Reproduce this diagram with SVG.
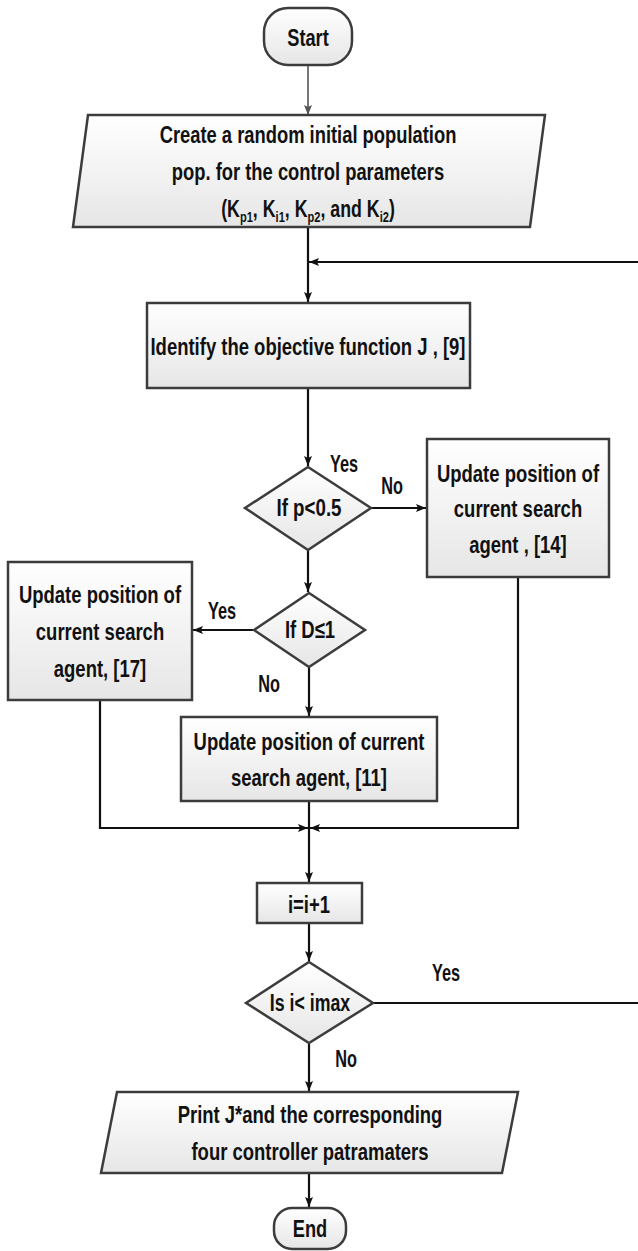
<svg xmlns="http://www.w3.org/2000/svg" width="638" height="1251" viewBox="0 0 638 1251">
<style>
.n{fill:url(#g);stroke:#3c3c3c;stroke-width:2.5}
.t{font-family:"Liberation Sans",Arial,sans-serif;font-weight:bold;font-size:24px;fill:#111;text-anchor:middle}
.c{fill:none;stroke:#111;stroke-width:2.2}
.c0{fill:none;stroke:#555;stroke-width:1.6}
</style>
<defs>
<linearGradient id="g" x1="0" y1="0" x2="0" y2="1">
<stop offset="0" stop-color="#ffffff"/>
<stop offset="1" stop-color="#e6e6e6"/>
</linearGradient>
<marker id="a" markerUnits="userSpaceOnUse" markerWidth="12" markerHeight="10" refX="10" refY="4" orient="auto">
<path d="M0,0 L10,4 L0,8 L2,4 z" fill="#111"/>
</marker>
<marker id="a0" markerUnits="userSpaceOnUse" markerWidth="12" markerHeight="10" refX="10" refY="4" orient="auto">
<path d="M0,0 L10,4 L0,8 L2,4 z" fill="#555"/>
</marker>
</defs>

<g id="connectors">
<path class="c0" d="M308,66 V115" marker-end="url(#a0)"/>
<path class="c" d="M308,228 V302" marker-end="url(#a)"/>
<path class="c" d="M373,1003 H650 V262 H309" stroke-width="2.6" marker-end="url(#a)"/>
<path class="c" d="M308,389 V466" marker-end="url(#a)"/>
<path class="c" d="M371,508 H426" stroke-width="2.6" marker-end="url(#a)"/>
<path class="c" d="M308,550 V592" marker-end="url(#a)"/>
<path class="c" d="M255,630 H193" stroke-width="2.6" marker-end="url(#a)"/>
<path class="c" d="M309,667 V716" marker-end="url(#a)"/>
<path class="c" d="M100,700 V828 H308" marker-end="url(#a)"/>
<path class="c" d="M518,577 V828 H310" marker-end="url(#a)"/>
<path class="c" d="M309,801 V882" marker-end="url(#a)"/>
<path class="c" d="M309,923 V961" marker-end="url(#a)"/>
<path class="c" d="M309,1043 V1091" marker-end="url(#a)"/>
<path class="c" d="M309,1173 V1207" marker-end="url(#a)"/>
</g>

<g id="start">
<rect class="n" x="264" y="8" width="88" height="57" rx="24" ry="24"/>
<text class="t" transform="translate(308,0) scale(0.76,1)" x="0" y="46">Start</text>
</g>

<g id="init">
<polygon class="n" points="88,115 545,115 530,227 73,227"/>
<text class="t" transform="translate(308,0) scale(0.765,1)" x="0" y="143">Create a random initial population</text>
<text class="t" transform="translate(308,0) scale(0.765,1)" x="0" y="180">pop. for the control parameters</text>
<text class="t" transform="translate(308,0) scale(0.74,1)" x="0" y="217">(K<tspan font-size="15" dy="5">p1</tspan><tspan dy="-5">, K</tspan><tspan font-size="15" dy="5">i1</tspan><tspan dy="-5">, K</tspan><tspan font-size="15" dy="5">p2</tspan><tspan dy="-5">, and K</tspan><tspan font-size="15" dy="5">i2</tspan><tspan dy="-5">)</tspan></text>
</g>

<g id="identify">
<rect class="n" x="147" y="303" width="323" height="85"/>
<text class="t" transform="translate(308,0) scale(0.77,1)" x="0" y="355">Identify the objective function J , [9]</text>
</g>

<g id="dec1">
<polygon class="n" points="308,467 371,508 308,550 245,508"/>
<text class="t" transform="translate(309,0) scale(0.78,1)" x="0" y="516">If p&lt;0.5</text>
</g>

<g id="upd14">
<rect class="n" x="427" y="439" width="182" height="138"/>
<text class="t" transform="translate(518,0) scale(0.77,1)" x="0" y="482">Update position of</text>
<text class="t" transform="translate(518,0) scale(0.77,1)" x="0" y="517">current search</text>
<text class="t" transform="translate(518,0) scale(0.77,1)" x="0" y="553">agent , [14]</text>
</g>

<g id="dec2">
<polygon class="n" points="309,593 365,630 309,667 254,630"/>
<text class="t" transform="translate(310,0) scale(0.77,1)" x="0" y="638">If D≤1</text>
</g>

<g id="upd17">
<rect class="n" x="8" y="562" width="184" height="138"/>
<text class="t" transform="translate(100,0) scale(0.77,1)" x="0" y="603">Update position of</text>
<text class="t" transform="translate(100,0) scale(0.77,1)" x="0" y="640">current search</text>
<text class="t" transform="translate(100,0) scale(0.77,1)" x="0" y="677">agent, [17]</text>
</g>

<g id="upd11">
<rect class="n" x="181" y="717" width="256" height="84"/>
<text class="t" transform="translate(309,0) scale(0.77,1)" x="0" y="750">Update position of current</text>
<text class="t" transform="translate(309,0) scale(0.77,1)" x="0" y="786">search agent, [11]</text>
</g>

<g id="incr">
<rect class="n" x="257" y="883" width="105" height="40"/>
<text class="t" transform="translate(309,0) scale(0.77,1)" x="0" y="913">i=i+1</text>
</g>

<g id="dec3">
<polygon class="n" points="309,962 373,1003 309,1043 246,1003"/>
<text class="t" transform="translate(310,0) scale(0.74,1)" x="0" y="1011">Is i&lt; imax</text>
</g>

<g id="print">
<polygon class="n" points="117,1092 518,1092 502,1173 101,1173"/>
<text class="t" transform="translate(310,0) scale(0.77,1)" x="0" y="1123">Print J*and the corresponding</text>
<text class="t" transform="translate(310,0) scale(0.77,1)" x="0" y="1160">four controller patramaters</text>
</g>

<g id="end">
<rect class="n" x="274" y="1208" width="72" height="41" rx="18" ry="18"/>
<text class="t" transform="translate(310,0) scale(0.76,1)" x="0" y="1237">End</text>
</g>

<g id="labels">
<text class="t" transform="translate(344,0) scale(0.68,1)" x="0" y="472">Yes</text>
<text class="t" transform="translate(392,0) scale(0.68,1)" x="0" y="494">No</text>
<text class="t" transform="translate(222,0) scale(0.68,1)" x="0" y="619">Yes</text>
<text class="t" transform="translate(269,0) scale(0.68,1)" x="0" y="692">No</text>
<text class="t" transform="translate(446,0) scale(0.68,1)" x="0" y="981">Yes</text>
<text class="t" transform="translate(346,0) scale(0.68,1)" x="0" y="1067">No</text>
</g>
</svg>
